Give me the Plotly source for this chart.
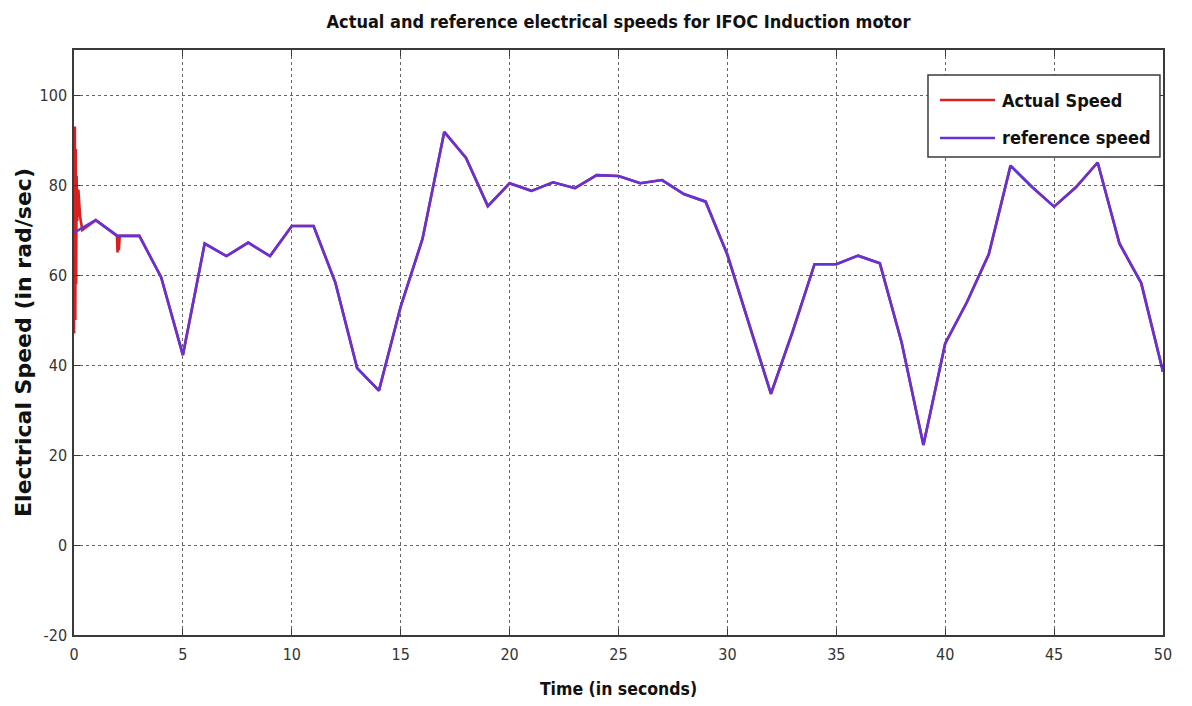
import plotly.graph_objects as go

# Reference speed profile (rad/s), sampled once per second
ref_t = list(range(0, 51))
ref_v = [69.4, 72.2, 68.7, 68.7, 59.5, 42.2, 67.0, 64.2, 67.2, 64.2,
         70.9, 70.9, 58.3, 39.3, 34.3, 53.0, 68.0, 91.8, 86.0, 75.3,
         80.4, 78.7, 80.6, 79.3, 82.2, 82.0, 80.4, 81.1, 78.0, 76.3,
         64.5, 49.0, 33.6, 47.5, 62.4, 62.4, 64.3, 62.6, 45.0, 22.2,
         44.8, 54.0, 64.6, 84.3, 79.5, 75.2, 79.5, 85.0, 67.0, 58.2,
         38.5]

# Measured speed: start-up transient and load disturbance near t = 2 s,
# afterwards it follows the reference
act_start_t = [0.0, 0.04, 0.06, 0.08, 0.10, 0.12, 0.15, 0.20, 0.28, 0.38,
               1.0, 1.97, 2.0, 2.03, 2.06, 2.1]
act_start_v = [47.0, 93.0, 50.0, 88.0, 58.0, 82.0, 72.0, 79.0, 73.0, 70.0,
               72.2, 68.7, 65.0, 68.5, 65.5, 68.7]
act_t = act_start_t + ref_t[3:]
act_v = act_start_v + ref_v[3:]

x_ticks = list(range(0, 51, 5))
y_ticks = list(range(-20, 101, 20))
y_tick_text = [str(v) for v in y_ticks]

series_names = ["Actual Speed", "reference speed"]
series_colors = ["#d7201f", "#6433d8"]

narrow = "DejaVu Sans Condensed, Liberation Sans Narrow, sans-serif"

fig = go.Figure()
fig.add_trace(go.Scatter(x=act_t, y=act_v, mode="lines", name=series_names[0],
                         line=dict(color=series_colors[0], width=2.6)))
fig.add_trace(go.Scatter(x=ref_t, y=ref_v, mode="lines", name=series_names[1],
                         line=dict(color=series_colors[1], width=2.6)))

# Boxed legend in the upper-right corner with long line samples
box = dict(x0=0.7842, x1=0.9972, y0=0.8171, y1=0.9573)
fig.add_shape(type="rect", xref="paper", yref="paper", **box,
              line=dict(color="#3a3a3a", width=1.5), fillcolor="white", layer="above")
row_y = [0.9145, 0.8496]
for name, color, yy in zip(series_names, series_colors, row_y):
    fig.add_shape(type="line", xref="paper", yref="paper",
                  x0=0.7952, x1=0.8457, y0=yy, y1=yy,
                  line=dict(color=color, width=2.6), layer="above")
    fig.add_annotation(xref="paper", yref="paper", x=0.8503, y=yy,
                       xanchor="left", yanchor="middle", showarrow=False,
                       text=f"<b>{name}</b>",
                       font=dict(family=narrow, size=18, color="#111111"))

axis_common = dict(
    showline=True, linecolor="#3a3a3a", linewidth=1.5, mirror="ticks",
    ticks="inside", ticklen=6, tickcolor="#3a3a3a", tickwidth=1.2,
    showgrid=True, gridcolor="#666666", griddash="dot", gridwidth=1,
    zeroline=False, automargin=False,
    tickfont=dict(family=narrow, size=16, color="#333333"),
)

fig.update_layout(
    width=1192, height=706,
    margin=dict(l=74, r=29, t=50, b=71),
    paper_bgcolor="white", plot_bgcolor="white",
    showlegend=False,
    title=dict(text="<b>Actual and reference electrical speeds for IFOC Induction motor</b>",
               x=0.5, xref="paper", xanchor="center",
               y=1 - 22 / 706, yref="container", yanchor="middle",
               font=dict(family=narrow, size=18, color="#111111")),
    xaxis=dict(range=[0, 50], tickvals=x_ticks, ticklabelstandoff=4,
               title=dict(text="<b>Time (in seconds)</b>", standoff=20,
                          font=dict(family=narrow, size=17.5, color="#111111")),
               **axis_common),
    yaxis=dict(range=[-20, 110], tickvals=y_ticks, ticktext=y_tick_text,
               ticklabelstandoff=2,
               title=dict(text="<b>Electrical Speed (in rad/sec)</b>", standoff=2,
                          font=dict(family="DejaVu Sans, Verdana, sans-serif",
                                    size=22, color="#111111")),
               **axis_common),
)

fig.write_html("out.html")
